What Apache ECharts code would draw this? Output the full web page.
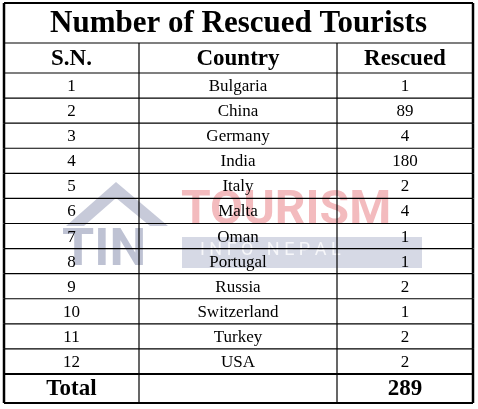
<!DOCTYPE html><html><head><meta charset="utf-8">
<script src="https://cdn.jsdelivr.net/npm/echarts@6/dist/echarts.min.js"></script>
<style>html,body{margin:0;padding:0;background:#fff}#c{width:478px;height:409px}</style></head><body><div id="c"></div>
<script>
const title = 'Number of Rescued Tourists';
const headers = ['S.N.', 'Country', 'Rescued'];
const countries = ['Bulgaria','China','Germany','India','Italy','Malta','Oman','Portugal','Russia','Switzerland','Turkey','USA'];
const rescued = [1,89,4,180,2,4,1,1,2,1,2,2];
const totalLabel = 'Total';
const totalValue = 289;

const F = 'Liberation Serif, Times New Roman, serif';
const colX = [0,135,333,469];
const chart = echarts.init(document.getElementById('c'));
const data = countries.map((c,i)=>[i, rescued[i]]);
chart.setOption({
  animation:false,
  grid:{left:4,right:5,top:73,bottom:35},
  xAxis:{type:'value',min:0,max:469,show:false},
  yAxis:{type:'value',min:0,max:12,inverse:true,show:false},
  graphic:[
    {type:'text',left:181,top:188,style:{text:'TOURISM',font:'bold 48px Roboto, sans-serif',fill:'rgba(220,60,70,0.35)'}},
    {type:'rect',shape:{x:182,y:237,width:240,height:31},style:{fill:'rgba(120,130,170,0.3)'}},
    {type:'text',left:200,top:241,style:{text:'I N F O   N E P A L',font:'18px Roboto, sans-serif',fill:'rgba(255,255,255,0.8)'}},
    {type:'text',left:62,top:226,style:{text:'TIN',font:'bold 52px Roboto, sans-serif',fill:'rgba(70,80,130,0.35)'}},
    {type:'polygon',shape:{points:[[66,226],[116,182],[168,226],[150,226],[116,198],[84,226]]},style:{fill:'rgba(70,80,130,0.3)'}}
  ],
  series:[{
    type:'custom',
    data:[[-2,0],[-1,0]].concat(data).concat([[12,0]]),
    renderItem:(params, api)=>{
      const r = api.value(0);
      const x = colX.map(v=>api.coord([v,0])[0]);
      let y0, y1;
      if (r===-2){y0=3;y1=43;} else if (r===-1){y0=43;y1=73;}
      else if (r===12){y0=api.coord([0,12])[1];y1=403;}
      else {y0=api.coord([0,r])[1];y1=api.coord([0,r+1])[1];}
      const yc=(y0+y1)/2;
      const ch=[];
      const line=(a,b,c,d,w)=>ch.push({type:'line',shape:{x1:a,y1:b,x2:c,y2:d},style:{stroke:'#000',lineWidth:w||1}});
      line(x[0],y1,x[3],y1, r===11||r===12?2:1.2);
      if (r===-2){
        line(x[0],y0,x[3],y0,2);
        ch.push({type:'text',style:{text:title,x:(x[0]+x[3])/2,y:yc+1,align:'center',verticalAlign:'middle',font:'bold 31px '+F,fill:'#000'}});
      } else {
        for (let k=1;k<3;k++) line(x[k],y0,x[k],y1,1.2);
        let t;
        if (r===-1) t=headers.map(h=>({s:h,f:'bold 23px '+F}));
        else if (r===12) t=[{s:totalLabel,f:'bold 23px '+F},{s:'',f:''},{s:String(totalValue),f:'bold 23px '+F}];
        else t=[r+1,countries[r],api.value(1)].map(s=>({s:String(s),f:'17px '+F}));
        t.forEach((o,k)=>{ if(o.s) ch.push({type:'text',style:{text:o.s,x:(x[k]+x[k+1])/2,y:yc+1,align:'center',verticalAlign:'middle',font:o.f,fill:'#000'}}); });
      }
      line(x[0],y0,x[0],y1,2.5); line(x[3],y0,x[3],y1,2.5);
      return {type:'group',children:ch};
    }
  }]
});
</script></body></html>
